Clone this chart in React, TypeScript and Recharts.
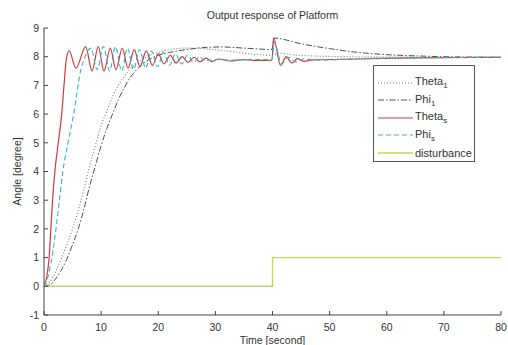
import React from 'react';
import { LineChart, Line, XAxis, YAxis, Legend } from 'recharts';

// ---- data ----
const xTicks = [0, 10, 20, 30, 40, 50, 60, 70, 80];
const yTicks = [-1, 0, 1, 2, 3, 4, 5, 6, 7, 8, 9];

const theta1Time = [0, 1, 2, 3, 4, 5, 6, 7, 8, 9, 10, 11, 12, 13, 14, 15, 16, 18, 20, 22, 25, 28, 32, 36, 40, 41, 44, 50, 60, 70, 80];
const theta1Val = [0, 0.15, 0.5, 0.95, 1.45, 2.0, 2.65, 3.4, 4.2, 4.9, 5.6, 6.1, 6.6, 7.0, 7.3, 7.55, 7.75, 8.0, 8.15, 8.25, 8.3, 8.28, 8.2, 8.1, 8.05, 8.12, 8.06, 8.01, 7.99, 7.98, 7.98];

const phi1Time = [0, 1, 2, 3, 4, 5, 6, 7, 8, 9, 10, 11, 12, 13, 14, 15, 16, 17, 18, 20, 22, 25, 28, 31, 35, 39.9, 40.2, 45, 50, 55, 60, 65, 70, 80];
const phi1Val = [0, 0.05, 0.25, 0.55, 0.95, 1.45, 2.0, 2.7, 3.5, 4.2, 4.9, 5.5, 6.0, 6.5, 6.9, 7.25, 7.5, 7.7, 7.85, 8.05, 8.15, 8.25, 8.32, 8.34, 8.3, 8.25, 8.65, 8.45, 8.28, 8.15, 8.07, 8.03, 8.0, 7.98];

const thetaSTime = [0, 0.5, 0.9, 1.2, 1.5, 1.9, 2.5, 3.1, 3.5, 3.9, 4.4, 5.6, 7.3, 8.4, 9.5, 10.5, 11.6, 12.6, 13.7, 14.7, 15.8, 16.8, 17.9, 19, 20, 21, 22.1, 23.1, 24.2, 25.2, 26.3, 27.3, 28.4, 29.4, 30.5, 32.6, 34.7, 36.8, 39.9, 40.2, 41.4, 42.4, 43.4, 44.4, 45.4, 47, 55, 65, 80];
const thetaSVal = [0, 0.35, 1, 2, 3, 4, 5, 6, 7, 7.9, 8.2, 7.6, 8.35, 7.5, 8.35, 7.5, 8.3, 7.55, 8.3, 7.6, 8.25, 7.65, 8.2, 7.7, 8.1, 7.75, 8.05, 7.78, 8.0, 7.8, 7.98, 7.82, 7.95, 7.83, 7.92, 7.85, 7.9, 7.87, 7.88, 8.65, 7.7, 8.0, 7.78, 7.93, 7.84, 7.89, 7.92, 7.96, 7.98];

const phiSTime = [0, 0.5, 1, 1.4, 2.1, 2.7, 3.3, 4.2, 5.2, 6.4, 7.0, 8.2, 9.3, 10.4, 11.5, 12.5, 13.6, 14.6, 15.7, 16.7, 17.8, 18.8, 19.9, 20.9, 22, 23, 24.1, 25.1, 26.2, 27.2, 28.3, 30, 33, 36, 39.9, 40.3, 41.6, 42.8, 44, 45.5, 48, 55, 65, 80];
const phiSVal = [0, 0.2, 0.6, 1, 2, 3, 4, 5, 6, 7.5, 7.9, 8.3, 7.55, 8.35, 7.5, 8.35, 7.5, 8.3, 7.55, 8.25, 7.6, 8.2, 7.65, 8.15, 7.7, 8.1, 7.75, 8.05, 7.8, 8.0, 7.85, 7.9, 7.88, 7.9, 7.9, 8.5, 7.75, 7.98, 7.82, 7.92, 7.88, 7.93, 7.96, 7.98];

const distTime = [0, 40, 80];
const distVal = [0, 1, 1];

const toPts = (ts: number[], vs: number[]) => ts.map((t, i) => ({ t, v: vs[i] }));

const series = [
  { key: 'theta1', name: 'Theta', sub: '1', data: toPts(theta1Time, theta1Val), color: '#7a7a7a', dash: '1 2', width: 1.1, type: 'monotone' },
  { key: 'phi1', name: 'Phi', sub: '1', data: toPts(phi1Time, phi1Val), color: '#505050', dash: '6 2 1.5 2', width: 1, type: 'monotone' },
  { key: 'thetaS', name: 'Theta', sub: 's', data: toPts(thetaSTime, thetaSVal), color: '#d23a3a', dash: undefined, width: 1.2, type: 'monotone' },
  { key: 'phiS', name: 'Phi', sub: 's', data: toPts(phiSTime, phiSVal), color: '#2fb8c8', dash: '5 3', width: 1.1, type: 'monotone' },
  { key: 'dist', name: 'disturbance', sub: '', data: toPts(distTime, distVal), color: '#c6d65e', dash: undefined, width: 1.4, type: 'stepAfter' },
];

const FONT = '"Liberation Sans", Arial, sans-serif';
const TXT = '#333';

const LegendBox = () => (
  <div style={{ width: 102, height: 97, border: '1px solid #555', background: '#fff', boxSizing: 'border-box', padding: '8px 0 0 4px', fontFamily: FONT, fontSize: 11, color: TXT }}>
    {series.map((s) => (
      <div key={s.key} style={{ display: 'flex', alignItems: 'center', height: 17.5 }}>
        <svg width={35} height={6} style={{ marginRight: 2 }}>
          <line x1={0} y1={3} x2={35} y2={3} stroke={s.color} strokeWidth={s.width} strokeDasharray={s.dash} />
        </svg>
        <span>
          {s.name}
          {s.sub ? <sub style={{ fontSize: 8 }}>{s.sub}</sub> : null}
        </span>
      </div>
    ))}
  </div>
);

export default function App() {
  return (
    <div style={{ position: 'absolute', left: 0, top: 0, width: 508, height: 345, background: '#fff' }}>
      <div style={{ position: 'absolute', left: 0, width: 508, top: 9, textAlign: 'center', fontFamily: FONT, fontSize: 10.5, color: TXT, paddingLeft: 37, boxSizing: 'border-box' }}>
        Output response of Platform
      </div>
      <LineChart width={508} height={345} margin={{ top: 28, right: 7, left: 0, bottom: 0 }} style={{ fontFamily: FONT }}>
        <XAxis
          xAxisId={0}
          type="number"
          dataKey="t"
          domain={[0, 80]}
          ticks={xTicks}
          height={30}
          tickSize={-4}
          tickMargin={13}
          stroke="#444"
          tick={{ fill: TXT, fontSize: 10.5 }}
          label={{ value: 'Time [second]', position: 'insideBottom', offset: 0, fill: TXT, fontSize: 10.5, dy: -1 }}
          allowDataOverflow
        />
        <XAxis xAxisId="top" orientation="top" type="number" dataKey="t" domain={[0, 80]} ticks={xTicks} height={0} tickSize={-4} tick={false} stroke="#444" allowDataOverflow />
        <YAxis
          yAxisId={0}
          type="number"
          domain={[-1, 9]}
          ticks={yTicks}
          width={44}
          tickSize={-4}
          tickMargin={9}
          stroke="#444"
          tick={{ fill: TXT, fontSize: 10.5 }}
          label={{ value: 'Angle [degree]', angle: -90, position: 'insideLeft', offset: 17, fill: TXT, fontSize: 10.5, style: { textAnchor: 'middle' } }}
          allowDataOverflow
        />
        <YAxis yAxisId="right" orientation="right" type="number" domain={[-1, 9]} ticks={yTicks} width={0} tickSize={-4} tick={false} stroke="#444" allowDataOverflow />
        {series.map((s) => (
          <Line
            key={s.key}
            xAxisId={0}
            yAxisId={0}
            data={s.data}
            dataKey="v"
            name={s.key}
            type={s.type as any}
            stroke={s.color}
            strokeWidth={s.width}
            strokeDasharray={s.dash}
            dot={false}
            activeDot={false}
            isAnimationActive={false}
          />
        ))}
        <Legend layout="vertical" align="center" verticalAlign="middle" wrapperStyle={{ left: 373, top: 65, width: 102 }} content={() => <LegendBox />} />
      </LineChart>
    </div>
  );
}
